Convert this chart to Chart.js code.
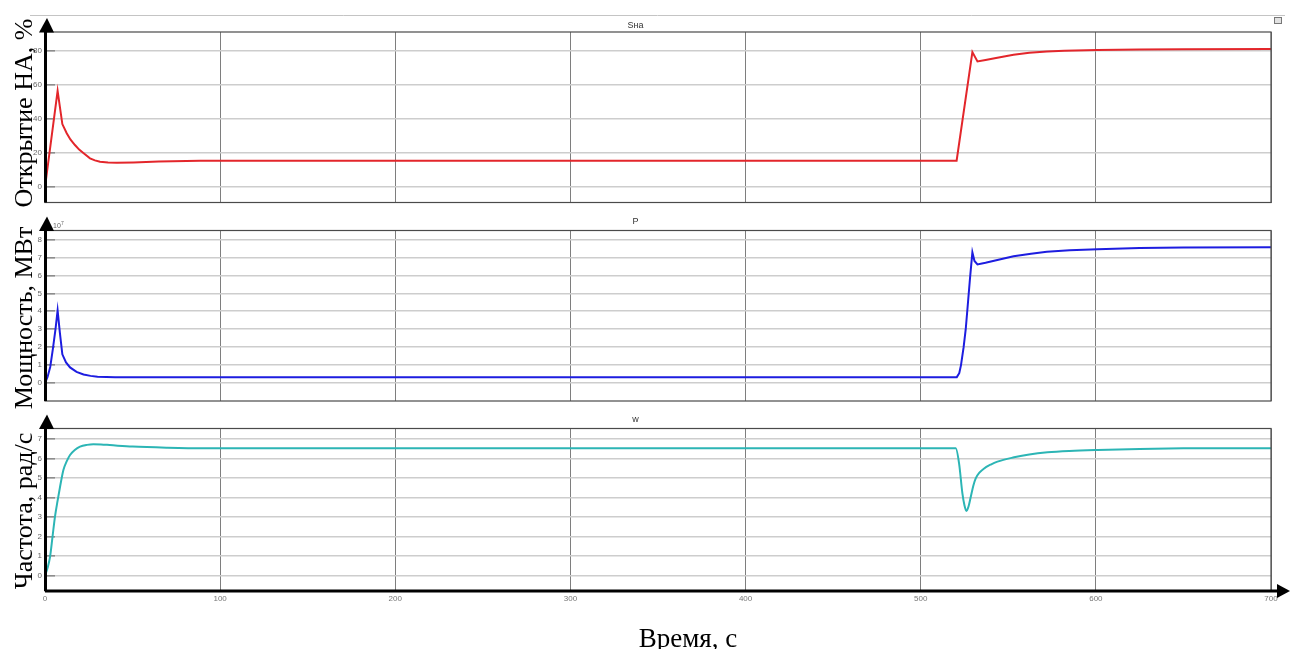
<!DOCTYPE html>
<html>
<head>
<meta charset="utf-8">
<script src="https://cdn.jsdelivr.net/npm/chart.js@4.4.0/dist/chart.umd.min.js"></script>
<style>
  body { margin: 0; background: #fff; overflow: hidden; }
  #page { position: relative; width: 1290px; height: 649px; overflow: hidden; }
  canvas { position: absolute; left: 0; }
  .lbl { position: absolute; font-family: "Liberation Serif", "Times New Roman", serif; font-size: 26px; color: #000; white-space: nowrap; line-height: 1; }
  .rot { transform: translate(-50%, -50%) rotate(-90deg); }
</style>
</head>
<body>
<div id="page">
  <canvas id="c1" width="1316" height="210" style="top:0px"></canvas>
  <canvas id="c2" width="1316" height="200" style="top:203px"></canvas>
  <canvas id="c3" width="1316" height="248" style="top:401px"></canvas>
  <div class="lbl rot" style="left:24px;top:113px">Открытие НА, %</div>
  <div class="lbl rot" style="left:24px;top:318px">Мощность, МВт</div>
  <div class="lbl rot" style="left:24px;top:511px">Частота, рад/с</div>
  <div class="lbl" style="left:688px;top:638px;transform:translate(-50%,-50%);font-size:27px">Время, с</div>
</div>
<script>
// ось времени, с
const xTicks = [0, 100, 200, 300, 400, 500, 600, 700];

// Sна - открытие НА, %
const tS = [0, 7.2, 9.9, 12.4, 14.5, 17.1, 19.5, 21.9, 25.7, 28.5, 31.4, 36, 41, 50.5, 65, 88.6, 120,
    520.5, 529.5, 532.4, 537, 543, 553, 562, 572, 582, 601, 625, 650, 700];
const sVals = [0, 56.5, 37, 31.6, 28, 24.7, 22, 20, 16.9, 15.7, 14.9, 14.5, 14.3, 14.5, 15, 15.5, 15.5,
    15.5, 79.2, 73.7, 74.6, 75.8, 77.6, 78.8, 79.5, 80, 80.4, 80.7, 80.9, 81];
const sTicks = [0, 20, 40, 60, 80];

// P - мощность, x10^7
const tP = [0, 1.5, 3, 4.5, 6, 7.2, 8.5, 9.9, 12, 14.3, 18, 22, 26, 30, 40,
    520.6, 522, 523, 524.5, 525.7, 527, 528.2, 529.5, 530.7, 532.4,
    537, 545, 553, 563, 572, 585, 601, 625, 650, 700];
const pVals = [0, 0.35, 0.9, 1.9, 3.0, 4.05, 2.8, 1.6, 1.15, 0.87, 0.62, 0.48, 0.4, 0.35, 0.33,
    0.33, 0.55, 1.0, 2.0, 3.0, 4.5, 5.9, 7.28, 6.8, 6.61,
    6.7, 6.88, 7.07, 7.2, 7.31, 7.4, 7.46, 7.52, 7.55, 7.57];
const pTicks = [0, 1, 2, 3, 4, 5, 6, 7, 8];

// w - частота, рад/с
const tW = [0, 1.5, 2.9, 4.3, 5.7, 7.2, 8.6, 10.5, 12.3, 14.3, 17, 20, 24, 27.6, 32, 37, 50, 70, 90, 520,
    521.9, 523.8, 525, 526.1, 527.3, 528.6, 530, 531.4, 533.5, 536.2,
    540, 543.8, 553.3, 562, 572.4, 585, 601, 625, 650, 700];
const wVals = [0, 0.4, 0.97, 2.0, 3.03, 3.85, 4.56, 5.42, 5.85, 6.19, 6.45, 6.62, 6.71, 6.74, 6.73, 6.7, 6.62, 6.56, 6.53, 6.53,
    5.76, 4.22, 3.6, 3.32, 3.55, 4.05, 4.6, 4.99, 5.28, 5.5,
    5.7, 5.85, 6.07, 6.22, 6.33, 6.4, 6.45, 6.5, 6.53, 6.54];
const wTicks = [0, 1, 2, 3, 4, 5, 6, 7];

Chart.defaults.font.family = "'Liberation Sans', Arial, sans-serif";

// рамка осциллографа + стрелки осей
const scopeFrame = {
    id: "scopeFrame",
    afterDraw(chart, args, opts) {
        const ctx = chart.ctx;
        const a = chart.chartArea;
        ctx.save();
        if (opts.topBand) {
            ctx.strokeStyle = "#c4c4c4";
            ctx.lineWidth = 1;
            ctx.beginPath();
            ctx.moveTo(30, 15.5);
            ctx.lineTo(1285, 15.5);
            ctx.stroke();
            ctx.fillStyle = "#e2e2e2";
            ctx.strokeStyle = "#777";
            ctx.fillRect(1274, 17, 8, 7);
            ctx.strokeRect(1274.5, 17.5, 7, 6);
        }
        // рамка графика
        ctx.strokeStyle = "#4a4a4a";
        ctx.lineWidth = 1.2;
        ctx.strokeRect(a.left, a.top, a.right - a.left, a.bottom - a.top);

        if (opts.exponent) {
            ctx.fillStyle = "#666";
            ctx.font = "7px 'Liberation Sans'";
            ctx.textBaseline = "middle";
            ctx.fillText("10", a.left + 8, a.top - 4);
            ctx.font = "5px 'Liberation Sans'";
            ctx.fillText("7", a.left + 16, a.top - 7);
        }

        // ось Y со стрелкой
        ctx.strokeStyle = "#000";
        ctx.fillStyle = "#000";
        ctx.lineWidth = 3;
        ctx.beginPath();
        ctx.moveTo(a.left + 0.5, a.bottom);
        ctx.lineTo(a.left + 0.5, a.top);
        ctx.stroke();
        ctx.beginPath();
        ctx.moveTo(a.left + 2, a.top - 14);
        ctx.lineTo(a.left - 6, a.top + 0.5);
        ctx.lineTo(a.left + 9, a.top + 0.5);
        ctx.closePath();
        ctx.fill();

        if (opts.arrowX) {
            ctx.beginPath();
            ctx.moveTo(a.left, a.bottom);
            ctx.lineTo(1280, a.bottom);
            ctx.stroke();
            ctx.beginPath();
            ctx.moveTo(1290, a.bottom);
            ctx.lineTo(1277, a.bottom - 7);
            ctx.lineTo(1277, a.bottom + 7);
            ctx.closePath();
            ctx.fill();
        }
        ctx.restore();
    }
};

function makeScope(id, o) {
    const pts = o.t.map((t, i) => ({ x: t, y: o.v[i] }));
    return new Chart(document.getElementById(id), {
        type: "line",
        data: {
            datasets: [{
                label: o.title,
                data: pts,
                borderColor: o.color,
                borderWidth: 2,
                pointRadius: 0,
                tension: 0,
                cubicInterpolationMode: o.smooth ? "monotone" : "default"
            }]
        },
        options: {
            responsive: false,
            animation: false,
            layout: { padding: { left: 0, right: 45, top: 0, bottom: o.padBottom } },
            plugins: {
                legend: { display: false },
                tooltip: { enabled: false },
                title: {
                    display: true,
                    text: o.title,
                    color: "#333",
                    font: { size: 9, weight: "normal" },
                    padding: { top: o.titleTop, bottom: o.titleBottom }
                },
                scopeFrame: { topBand: !!o.topBand, arrowX: !!o.arrowX, exponent: !!o.exponent }
            },
            scales: {
                x: {
                    type: "linear",
                    min: 0,
                    max: 700,
                    afterBuildTicks: s => { s.ticks = xTicks.map(v => ({ value: v })); },
                    afterFit: s => {
                        s.height = o.xHeight;
                        s.paddingLeft = 0;
                        s.paddingRight = 0;
                    },
                    border: { display: false },
                    grid: { color: "#7e7e7e", lineWidth: 1, drawTicks: false },
                    ticks: { display: !!o.arrowX, color: "#777", font: { size: 8 }, padding: 3, maxRotation: 0 }
                },
                y: {
                    min: o.min,
                    max: o.max,
                    afterBuildTicks: s => { s.ticks = o.ticks.map(v => ({ value: v })); },
                    afterFit: s => {
                        s.width = 45;
                        s.paddingTop = 0;
                        s.paddingBottom = 0;
                    },
                    border: { display: false },
                    grid: { color: "#cdcdcd", lineWidth: 1.6, drawTicks: true, tickLength: -10, tickColor: "#8a8a8a", tickWidth: 1.5 },
                    ticks: { color: "#666", font: { size: 8 }, padding: 13 }
                }
            }
        },
        plugins: [scopeFrame]
    });
}

makeScope("c1", {
    title: "Sна", t: tS, v: sVals, ticks: sTicks, min: -9, max: 91, color: "#e3262b",
    titleTop: 20, titleBottom: 1.2, padBottom: 7.5, xHeight: 0, topBand: true
});
makeScope("c2", {
    title: "P", t: tP, v: pVals, ticks: pTicks, min: -1, max: 8.5, color: "#1d1de0",
    titleTop: 13.6, titleBottom: 3.1, padBottom: 2, xHeight: 0, exponent: true
});
makeScope("c3", {
    title: "w", t: tW, v: wVals, ticks: wTicks, min: -0.79, max: 7.55, color: "#2cb5b5",
    titleTop: 13.6, titleBottom: 3.1, padBottom: 0, xHeight: 58, arrowX: true, smooth: true
});
</script>
</body>
</html>
